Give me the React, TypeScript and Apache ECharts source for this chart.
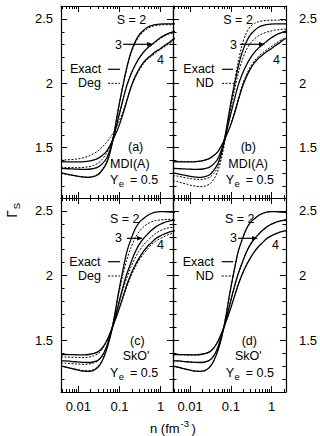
import React, { useEffect, useRef } from "react";
import * as echarts from "echarts";

// densities n (fm^-3)
const nVals = [0.0038, 0.005, 0.0065, 0.0085, 0.011, 0.014, 0.018, 0.023, 0.03, 0.038, 0.048, 0.06, 0.075, 0.095, 0.12, 0.15, 0.19, 0.24, 0.3, 0.38, 0.48, 0.6, 0.75, 0.95, 1.2, 1.5, 1.9, 2.3];

// MDI(A) Exact
const mdiExactS2 = [1.305, 1.298, 1.29, 1.283, 1.276, 1.272, 1.27, 1.275, 1.29, 1.325, 1.375, 1.47, 1.62, 1.81, 1.975, 2.12, 2.24, 2.32, 2.375, 2.41, 2.435, 2.448, 2.455, 2.46, 2.462, 2.462, 2.462, 2.462];
const mdiExactS3 = [1.340, 1.338, 1.336, 1.334, 1.333, 1.332, 1.333, 1.338, 1.35, 1.375, 1.415, 1.49, 1.60, 1.735, 1.865, 1.98, 2.07, 2.14, 2.195, 2.24, 2.275, 2.30, 2.325, 2.35, 2.37, 2.385, 2.398, 2.405];
const mdiExactS4 = [1.39, 1.39, 1.39, 1.39, 1.391, 1.393, 1.397, 1.404, 1.418, 1.44, 1.47, 1.52, 1.585, 1.66, 1.755, 1.86, 1.97, 2.05, 2.11, 2.16, 2.195, 2.22, 2.245, 2.265, 2.29, 2.31, 2.335, 2.35];
// MDI(A) Deg
const mdiDegS2 = [1.300, 1.294, 1.287, 1.281, 1.276, 1.273, 1.272, 1.278, 1.295, 1.333, 1.385, 1.48, 1.625, 1.81, 1.97, 2.11, 2.23, 2.31, 2.365, 2.40, 2.425, 2.44, 2.448, 2.452, 2.455, 2.455, 2.455, 2.455];
const mdiDegS3 = [1.348, 1.347, 1.346, 1.346, 1.346, 1.348, 1.353, 1.362, 1.38, 1.41, 1.455, 1.52, 1.615, 1.74, 1.865, 1.975, 2.07, 2.14, 2.19, 2.235, 2.27, 2.295, 2.32, 2.345, 2.365, 2.38, 2.39, 2.395];
const mdiDegS4 = [1.405, 1.406, 1.408, 1.411, 1.416, 1.424, 1.436, 1.452, 1.475, 1.505, 1.54, 1.58, 1.63, 1.695, 1.775, 1.865, 1.965, 2.045, 2.10, 2.15, 2.185, 2.21, 2.235, 2.26, 2.28, 2.30, 2.32, 2.33];
// MDI(A) ND
const mdiNdS2 = [1.245, 1.236, 1.226, 1.216, 1.207, 1.201, 1.198, 1.202, 1.218, 1.255, 1.32, 1.43, 1.59, 1.80, 1.99, 2.16, 2.30, 2.39, 2.44, 2.465, 2.478, 2.485, 2.488, 2.49, 2.49, 2.49, 2.49, 2.49];
const mdiNdS3 = [1.285, 1.279, 1.272, 1.265, 1.259, 1.255, 1.254, 1.258, 1.27, 1.30, 1.35, 1.45, 1.595, 1.77, 1.93, 2.07, 2.18, 2.26, 2.31, 2.345, 2.37, 2.385, 2.397, 2.405, 2.412, 2.417, 2.42, 2.42];
const mdiNdS4 = [1.395, 1.395, 1.394, 1.393, 1.393, 1.394, 1.397, 1.404, 1.417, 1.438, 1.468, 1.515, 1.585, 1.665, 1.765, 1.875, 1.985, 2.065, 2.125, 2.175, 2.21, 2.235, 2.26, 2.28, 2.305, 2.325, 2.345, 2.355];

// SkO' Exact
const skoExactS2 = [1.300, 1.292, 1.283, 1.274, 1.266, 1.261, 1.259, 1.265, 1.29, 1.34, 1.42, 1.53, 1.68, 1.87, 2.035, 2.18, 2.28, 2.36, 2.41, 2.44, 2.465, 2.48, 2.49, 2.495, 2.495, 2.493, 2.49, 2.487];
const skoExactS3 = [1.342, 1.34, 1.337, 1.334, 1.331, 1.329, 1.328, 1.332, 1.345, 1.38, 1.445, 1.54, 1.65, 1.78, 1.905, 2.01, 2.10, 2.18, 2.24, 2.285, 2.32, 2.35, 2.375, 2.395, 2.41, 2.42, 2.427, 2.43];
const skoExactS4 = [1.39, 1.39, 1.389, 1.388, 1.387, 1.387, 1.39, 1.396, 1.41, 1.44, 1.49, 1.56, 1.64, 1.73, 1.83, 1.925, 2.01, 2.08, 2.135, 2.185, 2.225, 2.255, 2.285, 2.305, 2.32, 2.333, 2.342, 2.347];
// SkO' Deg
const skoDegS2 = [1.30, 1.293, 1.285, 1.277, 1.27, 1.266, 1.265, 1.272, 1.297, 1.345, 1.425, 1.535, 1.675, 1.85, 2.00, 2.12, 2.215, 2.29, 2.34, 2.375, 2.40, 2.415, 2.425, 2.43, 2.433, 2.435, 2.435, 2.435];
const skoDegS3 = [1.325, 1.323, 1.32, 1.317, 1.315, 1.314, 1.316, 1.323, 1.34, 1.378, 1.445, 1.54, 1.65, 1.77, 1.885, 1.98, 2.065, 2.135, 2.19, 2.235, 2.27, 2.30, 2.325, 2.345, 2.36, 2.368, 2.373, 2.375];
const skoDegS4 = [1.37, 1.37, 1.369, 1.368, 1.367, 1.367, 1.37, 1.378, 1.395, 1.43, 1.485, 1.56, 1.64, 1.725, 1.82, 1.91, 1.995, 2.065, 2.12, 2.165, 2.205, 2.24, 2.265, 2.285, 2.30, 2.315, 2.325, 2.332];
// SkO' ND
const skoNdS2 = [1.298, 1.291, 1.282, 1.274, 1.266, 1.262, 1.26, 1.266, 1.291, 1.341, 1.42, 1.53, 1.68, 1.87, 2.035, 2.18, 2.28, 2.36, 2.41, 2.44, 2.465, 2.48, 2.49, 2.495, 2.496, 2.494, 2.491, 2.488];
const skoNdS3 = [1.341, 1.339, 1.336, 1.333, 1.331, 1.329, 1.329, 1.333, 1.346, 1.38, 1.445, 1.54, 1.65, 1.78, 1.905, 2.01, 2.10, 2.18, 2.24, 2.285, 2.32, 2.35, 2.375, 2.395, 2.41, 2.42, 2.427, 2.43];
const skoNdS4 = [1.389, 1.389, 1.388, 1.387, 1.387, 1.387, 1.39, 1.396, 1.41, 1.44, 1.49, 1.56, 1.64, 1.73, 1.83, 1.925, 2.01, 2.08, 2.135, 2.185, 2.225, 2.255, 2.285, 2.305, 2.32, 2.333, 2.342, 2.347];

// ticks
const majorXTicks = [0.01, 0.1, 1];
const minorXTicks = [0.004, 0.005, 0.006, 0.007, 0.008, 0.009, 0.02, 0.03, 0.04, 0.05, 0.06, 0.07, 0.08, 0.09, 0.2, 0.3, 0.4, 0.5, 0.6, 0.7, 0.8, 0.9, 2];
const majorYTicks = [1.5, 2, 2.5];
const minorYTicks = [1.2, 1.3, 1.4, 1.6, 1.7, 1.8, 1.9, 2.1, 2.2, 2.3, 2.4];

const FONT = "'Liberation Sans', Arial, Helvetica, sans-serif";

type Panel = {
  left: number; top: number; width: number; height: number;
  xMin: number; xMax: number; yMin: number; yMax: number;
  labelX: boolean; labelLeft: boolean; labelRight: boolean;
  solid: number[][]; dashed: number[][];
};

const panels: Panel[] = [
  { left: 61, top: 6, width: 112, height: 192, xMin: 0.0038, xMax: 2, yMin: 1.11, yMax: 2.6, labelX: false, labelLeft: true, labelRight: false, solid: [mdiExactS2, mdiExactS3, mdiExactS4], dashed: [mdiDegS2, mdiDegS3, mdiDegS4] },
  { left: 173, top: 6, width: 115, height: 192, xMin: 0.0038, xMax: 2.25, yMin: 1.11, yMax: 2.6, labelX: false, labelLeft: false, labelRight: true, solid: [mdiExactS2, mdiExactS3, mdiExactS4], dashed: [mdiNdS2, mdiNdS3, mdiNdS4] },
  { left: 61, top: 198, width: 112, height: 194, xMin: 0.0038, xMax: 2, yMin: 1.1, yMax: 2.6, labelX: true, labelLeft: true, labelRight: false, solid: [skoExactS2, skoExactS3, skoExactS4], dashed: [skoDegS2, skoDegS3, skoDegS4] },
  { left: 173, top: 198, width: 115, height: 194, xMin: 0.0038, xMax: 2.25, yMin: 1.1, yMax: 2.6, labelX: true, labelLeft: false, labelRight: true, solid: [skoExactS2, skoExactS3, skoExactS4], dashed: [skoNdS2, skoNdS3, skoNdS4] },
];

const lineCol = "#000";

function txt(text: string, x: number, y: number, size = 12.5, align = "left") {
  return { type: "text", x, y, silent: true, style: { text, fill: "#000", fontSize: size, fontFamily: FONT, align, verticalAlign: "middle" } };
}
function seg(x1: number, y1: number, x2: number, y2: number, dashed = false) {
  return { type: "line", silent: true, shape: { x1, y1, x2, y2 }, style: { stroke: "#000", lineWidth: dashed ? 1 : 1.2, lineDash: dashed ? [2, 1.5] : null } };
}
function arrow(x1: number, x2: number, y: number) {
  return [
    seg(x1, y, x2 - 4, y),
    { type: "polygon", silent: true, shape: { points: [[x2, y], [x2 - 6, y - 2.2], [x2 - 6, y + 2.2]] }, style: { fill: "#000" } },
  ];
}
function ye(x: number, y: number) {
  return [txt("Y", x, y), txt("e", x + 8.8, y + 3.5, 9.5), txt("= 0.5", x + 20, y)];
}

export default function App() {
  const ref = useRef<HTMLDivElement>(null);
  useEffect(() => {
    if (!ref.current) return;
    const chart = echarts.init(ref.current, null, { renderer: "svg" });
    const grids: any[] = [];
    const xAxes: any[] = [];
    const yAxes: any[] = [];
    const series: any[] = [];
    const axisLine = { show: true, onZero: false, lineStyle: { color: lineCol, width: 1.2 } };
    const tickStyle = { color: lineCol, width: 1 };
    panels.forEach((p, g) => {
      grids.push({ left: p.left, top: p.top, width: p.width, height: p.height, containLabel: false });
      (["bottom", "top"] as const).forEach((pos) => {
        xAxes.push({
          gridIndex: g, type: "log", logBase: 10, position: pos, min: p.xMin, max: p.xMax,
          axisLine, splitLine: { show: false },
          axisTick: { show: true, inside: true, length: 6, customValues: majorXTicks, lineStyle: tickStyle },
          axisLabel: { show: pos === "bottom" && p.labelX, customValues: majorXTicks, margin: 8, color: "#000", fontSize: 13, fontFamily: FONT },
        });
        xAxes.push({
          gridIndex: g, type: "log", logBase: 10, position: pos, min: p.xMin, max: p.xMax,
          axisLine: { show: false }, splitLine: { show: false },
          axisTick: { show: true, inside: true, length: 3, customValues: minorXTicks, lineStyle: tickStyle },
          axisLabel: { show: false },
        });
      });
      (["left", "right"] as const).forEach((pos) => {
        const showLab = pos === "left" ? p.labelLeft : p.labelRight;
        yAxes.push({
          gridIndex: g, type: "value", position: pos, min: p.yMin, max: p.yMax,
          axisLine, splitLine: { show: false },
          axisTick: { show: true, inside: true, length: 6, customValues: majorYTicks, lineStyle: tickStyle },
          axisLabel: { show: showLab, customValues: majorYTicks, margin: pos === "left" ? 8 : 13, color: "#000", fontSize: 13, fontFamily: FONT },
        });
        yAxes.push({
          gridIndex: g, type: "value", position: pos, min: p.yMin, max: p.yMax,
          axisLine: { show: false }, splitLine: { show: false },
          axisTick: { show: true, inside: true, length: 3.5, customValues: minorYTicks, lineStyle: tickStyle },
          axisLabel: { show: false },
        });
      });
      const xi = g * 4;
      const yi = g * 4;
      p.solid.forEach((arr) => {
        series.push({
          type: "line", xAxisIndex: xi, yAxisIndex: yi, data: nVals.map((n, i) => [n, arr[i]]),
          showSymbol: false, symbol: "none", smooth: 0.3, clip: true,
          lineStyle: { color: lineCol, width: 1.3 },
        });
      });
      p.dashed.forEach((arr) => {
        series.push({
          type: "line", xAxisIndex: xi, yAxisIndex: yi, data: nVals.map((n, i) => [n, arr[i]]),
          showSymbol: false, symbol: "none", smooth: 0.3, clip: true,
          lineStyle: { color: lineCol, width: 1, type: [2, 1.5] },
        });
      });
    });

    const graphic: any[] = [
      // panel (a)
      txt("S = 2", 116.7, 20), txt("3", 115, 45), ...arrow(123, 153, 44.3), txt("4", 157, 60),
      txt("Exact", 70, 69.3), seg(108, 69.3, 120, 69.3), txt("Deg", 78, 83.3), seg(108, 83.3, 120, 83.3, true),
      txt("(a)", 128, 146.7), txt("MDI(A)", 110, 164.3), ...ye(110, 180),
      // panel (b)
      txt("S = 2", 223.3, 20), txt("3", 230, 45), ...arrow(240, 265, 44.3), txt("4", 273, 60),
      txt("Exact", 183.3, 69.3), seg(222, 69.3, 233, 69.3), txt("ND", 195.7, 83.3), seg(222, 83.3, 235, 83.3, true),
      txt("(b)", 240.7, 146.7), txt("MDI(A)", 228.3, 164.3), ...ye(225.7, 180),
      // panel (c)
      txt("S = 2", 110, 219.3), txt("3", 115, 238.3), ...arrow(127, 143, 238.3), txt("4", 157, 245),
      txt("Exact", 69.3, 261.7), seg(108, 261.7, 120, 261.7), txt("Deg", 78, 276), seg(108, 276, 120, 276, true),
      txt("(c)", 130, 340.7), txt("SkO'", 122.7, 355.7), ...ye(110, 373.3),
      // panel (d)
      txt("S = 2", 225, 219.3), txt("3", 230, 238.3), ...arrow(238, 258, 238.3), txt("4", 272, 245),
      txt("Exact", 182.7, 261.7), seg(221.7, 261.7, 233.3, 261.7), txt("ND", 195.7, 276), seg(221.7, 276, 235, 276, true),
      txt("(d)", 241.7, 340.7), txt("SkO'", 235, 355.7), ...ye(225.7, 373.3),
      // axis titles
      txt("n (fm", 150, 428, 13), txt("-3", 180.5, 423, 9.5), txt(")", 191.5, 428, 13),
      {
        type: "group", x: 12, y: 214, rotation: Math.PI / 2,
        children: [
          { type: "text", x: 0, y: 0, style: { text: "Γ", fill: "#000", fontSize: 14, fontFamily: FONT, align: "center", verticalAlign: "middle" } },
          { type: "text", x: 8, y: 4, style: { text: "S", fill: "#000", fontSize: 9.5, fontFamily: FONT, align: "center", verticalAlign: "middle" } },
        ],
      },
    ];

    chart.setOption({
      animation: false,
      backgroundColor: "#fff",
      grid: grids,
      xAxis: xAxes,
      yAxis: yAxes,
      series,
      graphic,
    });
    return () => chart.dispose();
  }, []);
  return <div ref={ref} style={{ position: "fixed", left: 0, top: 0, width: 320, height: 436 }} />;
}
